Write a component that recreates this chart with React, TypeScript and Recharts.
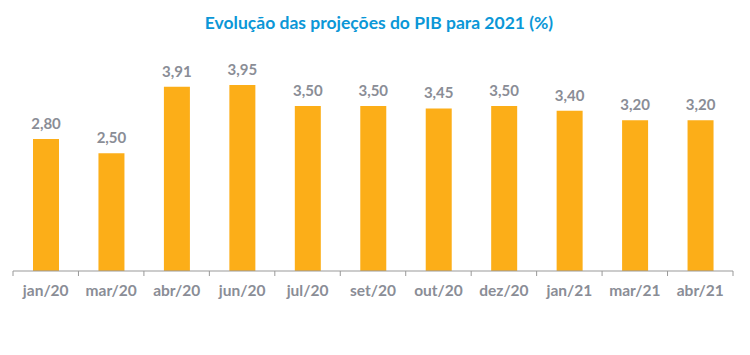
import { Bar, BarChart, LabelList, XAxis, YAxis } from "recharts";

const months = [
  "jan/20", "mar/20", "abr/20", "jun/20", "jul/20", "set/20",
  "out/20", "dez/20", "jan/21", "mar/21", "abr/21",
];
const projections = [2.8, 2.5, 3.91, 3.95, 3.5, 3.5, 3.45, 3.5, 3.4, 3.2, 3.2];
const boundaryTicks = [0, 1, 2, 3, 4, 5, 6, 7, 8, 9, 10, 11];

const data = months.map((m, i) => ({ month: m, value: projections[i], pos: i + 0.5 }));

const FONT = "Lato, 'Open Sans', sans-serif";
const GRAY = "#8a8d96";

export default function App() {
  return (
    <div style={{ position: "absolute", left: 0, top: 0, width: 750, height: 355, background: "#fff", fontFamily: FONT }}>
      <div
        style={{
          position: "absolute",
          top: 12,
          left: 0,
          width: 758,
          textAlign: "center",
          color: "#0b97d7",
          fontWeight: 700,
          fontSize: 17.5,
        }}
      >
        Evolução das projeções do PIB para 2021 (%)
      </div>
      <BarChart
        width={750}
        height={355}
        data={data}
        margin={{ top: 59, right: 17, left: 13, bottom: 38 }}
      >
        <YAxis hide domain={[0, 4.5]} />
        {/* boundary tick marks under the bars */}
        <XAxis
          xAxisId={0}
          type="number"
          dataKey="pos"
          domain={[0, 11]}
          ticks={boundaryTicks}
          height={6}
          tickFormatter={() => ""}
          stroke="#999999"
          tickSize={5}
        />
        <XAxis
          xAxisId={1}
          dataKey="month"
          axisLine={false}
          tickLine={false}
          height={40}
          tick={{ fill: GRAY, fontSize: 15.5, fontWeight: 700, fontFamily: FONT }}
          dy={0}
          interval={0}
        />
        <Bar xAxisId={1} dataKey="value" fill="#fcae18" barSize={26} isAnimationActive={false}>
          <LabelList
            dataKey="value"
            position="top"
            offset={10}
            formatter={(v: number) => v.toFixed(2).replace(".", ",")}
            style={{ fill: GRAY, fontSize: 15, fontWeight: 700, fontFamily: FONT }}
          />
        </Bar>
      </BarChart>
    </div>
  );
}
